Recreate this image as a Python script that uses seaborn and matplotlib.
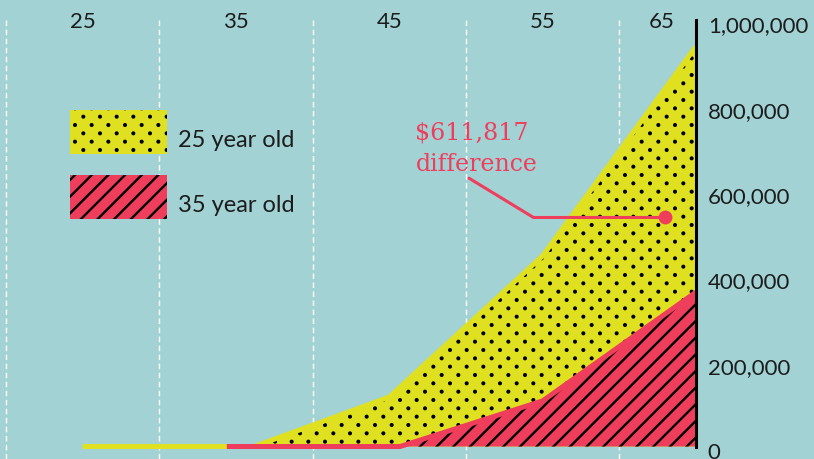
import numpy as np
import pandas as pd
import matplotlib
matplotlib.use("Agg")
import matplotlib.pyplot as plt
import matplotlib.patches as mpatches
import matplotlib.hatch as mhatch
from matplotlib.path import Path
from matplotlib.legend_handler import HandlerPatch
from matplotlib.transforms import ScaledTranslation
import seaborn as sns

# --- data --------------------------------------------------------------------
ages_25 = [25, 36.2, 45, 55, 65]
values_25 = [0, 0, 116000, 447000, 938000]
ages_35 = [34.4, 45.7, 55, 65]
values_35 = [0, 0, 107000, 362000]
series_labels = ["25 year old", "35 year old"]

x_ticks = [25, 35, 45, 55, 65]
x_grid = [20, 30, 40, 50, 60]
y_ticks = [0, 200000, 400000, 600000, 800000, 1000000]

note_text = "$611,817\ndifference"
note_path_x = [50.2, 54.4, 63.0]
note_path_y = [629000, 537000, 537000]

BG = "#a2d2d4"
YELLOW = "#dfe120"
RED = "#ef3e5b"
INK = "#1c1c1c"


class StaggeredDots(mhatch.HatchPatternBase):
    """Filled dots, rows twice as dense as matplotlib's '.' pattern."""

    def __init__(self, hatch, density):
        self.n = hatch.count('.') * density
        circle = Path.unit_circle()
        self.shape_vertices = circle.vertices
        self.shape_codes = circle.codes
        if self.n == 0:
            self.num_vertices = 0
        else:
            num_shapes = (self.n + 1) ** 2 + self.n ** 2
            self.num_vertices = num_shapes * len(circle.vertices)

    def set_vertices_and_codes(self, vertices, codes):
        step = 1.0 / self.n
        shape = self.shape_vertices * step * 0.05
        vparts, cparts = [], []
        for row in range(2 * self.n + 1):
            if row % 2 == 0:
                cols = np.linspace(0, 1, self.n + 1)
            else:
                cols = np.linspace(step / 2, 1 - step / 2, self.n)
            for col in cols:
                vparts.append(shape + [col, row * step / 2])
                cparts.append(self.shape_codes)
        np.concatenate(vparts, out=vertices)
        np.concatenate(cparts, out=codes)


mhatch._hatch_types[mhatch._hatch_types.index(mhatch.SmallFilledCircles)] = StaggeredDots


def swatch(legend, orig_handle, xdescent, ydescent, width, height, fontsize):
    # fixed-size legend swatch, hanging a little below the text baseline
    return mpatches.Rectangle((-xdescent, -5.8), width, 31.7)


sns.set_style("white")
plt.rcParams['font.family'] = ['Lato', 'DejaVu Sans']
plt.rcParams['hatch.linewidth'] = 1.7

df = pd.concat([
    pd.DataFrame({'age': ages_25, 'value': values_25, 'group': series_labels[0]}),
    pd.DataFrame({'age': ages_35, 'value': values_35, 'group': series_labels[1]}),
])

fig = plt.figure(figsize=(8.14, 4.6), dpi=100, facecolor=BG)
ax = fig.add_axes([0, 0, 696 / 814, 439 / 460])
ax.set_facecolor(BG)

# areas
ax.fill_between(ages_25, values_25, color=YELLOW, edgecolor='black', linewidth=0,
                hatch='.', zorder=2)
ax.fill_between(ages_35, values_35, color=RED, edgecolor='black', linewidth=0,
                hatch='//', zorder=3)

# the thick outline lines (visible along the flat zero stretch)
sns.lineplot(data=df, x='age', y='value', hue='group',
             palette={series_labels[0]: YELLOW, series_labels[1]: RED},
             linewidth=3.6, estimator=None, sort=False, legend=False,
             solid_capstyle='butt', ax=ax, zorder=4)
ax.set(xlabel='', ylabel='')

# annotation
ax.plot(note_path_x, note_path_y, color=RED, lw=2.2, zorder=6)
ax.plot(note_path_x[-1], note_path_y[-1], 'o', ms=9, color=RED, zorder=6)
ax.text(46.7, 701000, note_text, color=RED, fontsize=17, family='DejaVu Serif',
        va='center', ha='left', linespacing=1.45, zorder=7)

ax.set_xlim(19.61, 65)
ax.set_ylim(-29300, 1000000)

for side in ['top', 'left', 'bottom']:
    ax.spines[side].set_visible(False)
ax.spines['right'].set_color('black')
ax.spines['right'].set_linewidth(2.2)
ax.spines['right'].set_bounds(0, 1000000)
ax.spines['right'].set_zorder(8)

# x axis on top, gridlines between labels
ax.xaxis.tick_top()
ax.set_xticks(x_ticks, labels=[str(a) for a in x_ticks])
ax.set_xticks(x_grid, minor=True)
ax.tick_params(axis='x', which='both', length=0, pad=-8, labelsize=16, colors=INK)
ax.grid(False)
ax.grid(which='minor', axis='x', color='white', lw=1.0, ls=(0, (4, 2.5)), zorder=1)
ax.set_axisbelow(True)

# y axis on the right
ax.yaxis.tick_right()
ax.set_yticks(y_ticks, labels=[f"{v:,}" for v in y_ticks])
ax.tick_params(axis='y', length=0, pad=8.5, labelsize=16, colors=INK)

down = ScaledTranslation(0, -3.5 / 100, fig.dpi_scale_trans)
for t in ax.yaxis.get_major_ticks():
    t.label2.set_transform(t.label2.get_transform() + down)
last = ax.xaxis.get_major_ticks()[-1]
last.label2.set_transform(last.label2.get_transform()
                          + ScaledTranslation(-34 / 100, 0, fig.dpi_scale_trans))

handles = [
    mpatches.Patch(facecolor=YELLOW, edgecolor='black', linewidth=0, hatch='.'),
    mpatches.Patch(facecolor=RED, edgecolor='black', linewidth=0, hatch='//'),
]
ax.legend(handles, series_labels, loc='upper left',
          bbox_to_anchor=(70 / 814, 1 - 111 / 460), bbox_transform=fig.transFigure,
          frameon=False, borderpad=0, borderaxespad=0, handlelength=4.1,
          handleheight=3.45, handletextpad=0.47, labelspacing=0.265,
          fontsize=17, labelcolor=INK,
          handler_map={mpatches.Patch: HandlerPatch(patch_func=swatch)})

fig.savefig("out.png", dpi=100, facecolor=BG)
